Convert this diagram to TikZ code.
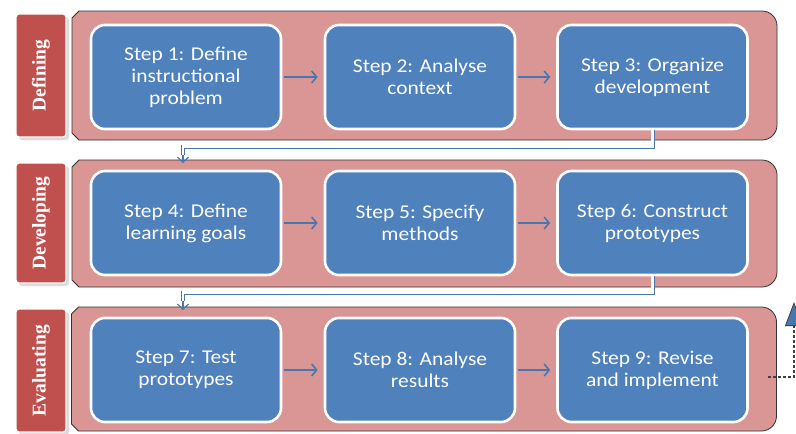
\documentclass[tikz,border=0pt]{standalone}
\usepackage{fontspec}
\setmainfont[FakeStretch=1.1]{Carlito}
\newfontfamily\labfont{Liberation Serif}
\usetikzlibrary{arrows.meta,shadows,calc}
\definecolor{pinkfill}{HTML}{D99694}
\definecolor{boxblue}{HTML}{4F81BD}
\definecolor{labred}{HTML}{C0504D}
\definecolor{connblue}{HTML}{4A76B0}
\definecolor{shadowgray}{HTML}{B8B8B8}
\begin{document}
\begin{tikzpicture}[x=1pt,y=-1pt,
  panelnode/.style={draw=none,minimum width=705pt,inner sep=0pt,outer sep=0pt},
  panel/.style={fill=pinkfill,draw=black!80,line width=0.8pt},
  stepbox/.style={fill=boxblue,draw=white,line width=2.6pt,rounded corners=14pt,
    minimum width=190pt,minimum height=104pt,inner sep=0pt,align=center,text=white,
    font=\fontsize{19.5pt}{22pt}\selectfont},
  labbox/.style={fill=labred,draw=white,line width=1.3pt,rounded corners=3pt,
    minimum width=50pt,inner sep=0pt,text=white,
    font=\labfont\bfseries\fontsize{19.5pt}{22pt}\selectfont,
    drop shadow={shadow xshift=3pt,shadow yshift=-3pt,fill=shadowgray}},
  flow/.style={draw=connblue,line width=1.6pt,shorten <=2pt,shorten >=6pt,
    -{Straight Barb[length=5pt,width=12pt]}},
  conn/.style={draw=connblue,line width=0.9pt,double=white,double distance=2.2pt},
  connarr/.style={draw=connblue,line width=1.2pt,shorten >=-3pt,
    -{Straight Barb[length=5pt,width=11pt]}},
  feedback/.style={draw=black!75,line width=1.1pt,densely dashed,
    -{Triangle[length=24pt,width=18pt,fill=connblue,line width=0.8pt]}}
]
\useasboundingbox (0,0) rectangle (796,434);
\clip (0,0) rectangle (796,434);
\fill[white] (0,0) rectangle (796,434);

% panels
\node[panelnode,minimum height=129pt] (P1) at (424.5,75.5) {};
\node[panelnode,minimum height=127pt] (P2) at (424.5,223.5) {};
\node[panelnode,minimum height=124pt] (P3) at (424,369) {};
\foreach \p in {P1,P2,P3}{
  \draw[panel] ([yshift=-7pt]\p.north west) -- ([xshift=7pt]\p.north west)
    [rounded corners=15pt] -- (\p.north east) -- (\p.south east)
    [sharp corners] -- ([xshift=7pt]\p.south west) -- ([yshift=7pt]\p.south west) -- cycle;
}

% labels
\node[labbox,minimum height=123pt] (L1) at (41,75.5) {\rotatebox{90}{Defining}};
\node[labbox,minimum height=120pt] (L2) at (41,223) {\rotatebox{90}{Developing}};
\node[labbox,minimum height=123pt] (L3) at (41,370.5) {\rotatebox{90}{Evaluating}};

% step boxes
\node[stepbox] (B1) at (186,77) {Step 1: Define\\instructional\\problem};
\node[stepbox] (B2) at (420,77) {Step 2: Analyse\\context};
\node[stepbox] (B3) at (652.5,77) {Step 3: Organize\\development};
\node[stepbox] (B4) at (186,223) {Step 4: Define\\learning goals};
\node[stepbox] (B5) at (420,223) {Step 5: Specify\\methods};
\node[stepbox] (B6) at (652.5,223) {Step 6: Construct\\prototypes};
\node[stepbox] (B7) at (186,370) {Step 7: Test\\prototypes};
\node[stepbox] (B8) at (420,370) {Step 8: Analyse\\results};
\node[stepbox] (B9) at (652.5,370) {Step 9: Revise\\and implement};

% arrows within rows
\draw[flow] (B1) -- (B2);
\draw[flow] (B2) -- (B3);
\draw[flow] (B4) -- (B5);
\draw[flow] (B5) -- (B6);
\draw[flow] (B7) -- (B8);
\draw[flow] (B8) -- (B9);

% row connectors
\coordinate (h1) at (0,146.5);
\coordinate (c1) at (183,155);
\draw[conn] (B3.south) -- (B3.south |- h1) -| (c1);
\draw[connarr] (c1) -- (c1 |- P2.north);

\coordinate (h2) at (0,292.5);
\coordinate (c2) at (183,301);
\draw[conn] (B6.south) -- (B6.south |- h2) -| (c2);
\draw[connarr] (c2) -- (c2 |- P3.north);

% feedback arrow
\coordinate (fs) at (768,377);
\coordinate (fc) at (794,377);
\coordinate (ft) at (794,302);
\draw[feedback] (fs) -- (fc) -- (ft);
\end{tikzpicture}
\end{document}
